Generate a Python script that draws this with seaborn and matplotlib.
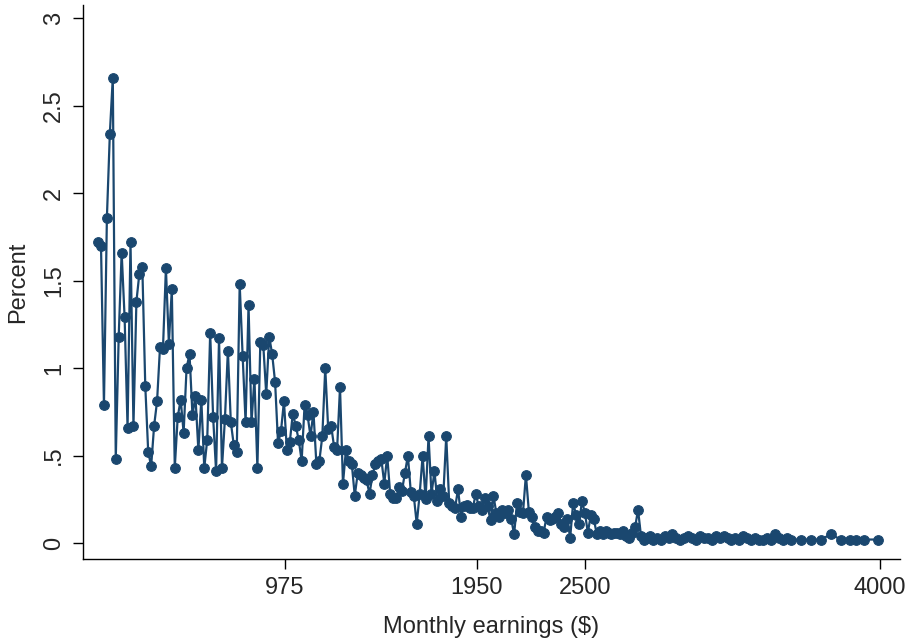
import matplotlib
matplotlib.use("Agg")
import matplotlib.pyplot as plt
import seaborn as sns
import pandas as pd

sns.set_style("white")
plt.rcParams["font.family"] = ["Liberation Sans", "DejaVu Sans"]

# monthly earnings bins ($)
earnings = [
    25, 40, 55, 70, 85, 100, 115, 130, 145, 160, 175, 190, 205, 220, 235, 250, 265, 280, 295, 310,
    325, 340, 355, 370, 385, 400, 415, 430, 445, 460, 475, 490, 505, 520, 535, 550, 565, 580, 595, 610,
    625, 640, 655, 670, 685, 700, 715, 730, 745, 760, 775, 790, 805, 820, 835, 850, 865, 880, 895, 910,
    925, 940, 955, 970, 985, 1000, 1015, 1030, 1045, 1060, 1075, 1090, 1105, 1120, 1135, 1150, 1165, 1180, 1195, 1210,
    1225, 1240, 1255, 1270, 1285, 1300, 1315, 1330, 1345, 1360, 1375, 1390, 1405, 1420, 1435, 1450, 1465, 1480, 1495, 1510,
    1525, 1540, 1555, 1570, 1585, 1600, 1615, 1630, 1645, 1660, 1675, 1690, 1705, 1720, 1735, 1750, 1765, 1780, 1795, 1810,
    1825, 1840, 1855, 1870, 1885, 1900, 1915, 1930, 1945, 1960, 1975, 1990, 2005, 2020, 2035, 2050, 2065, 2080, 2095, 2110,
    2125, 2140, 2155, 2170, 2185, 2200, 2215, 2230, 2245, 2260, 2275, 2290, 2305, 2320, 2335, 2350, 2365, 2380, 2395, 2410,
    2425, 2440, 2455, 2470, 2485, 2500, 2515, 2530, 2545, 2560, 2575, 2590, 2605, 2620, 2635, 2650, 2665, 2680, 2695, 2710,
    2725, 2740, 2755, 2770, 2785, 2800, 2815, 2830, 2845,
    2865, 2885, 2905, 2925, 2945, 2965, 2985, 3005, 3025, 3045, 3065, 3085, 3105, 3125, 3145, 3165, 3185, 3205, 3225, 3245,
    3265, 3285, 3305, 3325, 3345, 3365, 3385, 3405, 3425, 3445, 3465, 3485, 3505, 3525, 3550,
    3600, 3650, 3700, 3750, 3800, 3850, 3880, 3920, 3990,
]

percent = [
    1.72, 1.70, 0.79, 1.86, 2.34, 2.66, 0.48, 1.18, 1.66, 1.29, 0.66, 1.72, 0.67, 1.38, 1.54, 1.58, 0.90, 0.52, 0.44, 0.67,
    0.81, 1.12, 1.11, 1.57, 1.14, 1.45, 0.43, 0.72, 0.82, 0.63, 1.00, 1.08, 0.73, 0.84, 0.53, 0.82, 0.43, 0.59, 1.20, 0.72,
    0.41, 1.17, 0.43, 0.71, 1.10, 0.69, 0.56, 0.52, 1.48, 1.07, 0.69, 1.36, 0.69, 0.94, 0.43, 1.15, 1.13, 0.85, 1.18, 1.08,
    0.92, 0.57, 0.64, 0.81, 0.53, 0.58, 0.74, 0.67, 0.59, 0.47, 0.79, 0.73, 0.61, 0.75, 0.45, 0.47, 0.61, 1.00, 0.65, 0.67,
    0.55, 0.53, 0.89, 0.34, 0.53, 0.47, 0.45, 0.27, 0.40, 0.39, 0.37, 0.36, 0.28, 0.39, 0.45, 0.47, 0.48, 0.34, 0.50, 0.28,
    0.26, 0.26, 0.32, 0.30, 0.40, 0.50, 0.29, 0.27, 0.11, 0.28, 0.50, 0.25, 0.61, 0.28, 0.41, 0.24, 0.31, 0.27, 0.61, 0.23,
    0.21, 0.20, 0.31, 0.15, 0.21, 0.22, 0.20, 0.20, 0.28, 0.21, 0.19, 0.26, 0.21, 0.13, 0.27, 0.17, 0.15, 0.19, 0.17, 0.19,
    0.14, 0.05, 0.23, 0.18, 0.17, 0.39, 0.18, 0.15, 0.09, 0.07, 0.07, 0.06, 0.15, 0.13, 0.14, 0.15, 0.17, 0.11, 0.09, 0.14,
    0.03, 0.23, 0.16, 0.11, 0.24, 0.17, 0.06, 0.16, 0.14, 0.05, 0.07, 0.05, 0.07, 0.06, 0.05, 0.06, 0.06, 0.05, 0.07, 0.04,
    0.03, 0.06, 0.09, 0.19, 0.04, 0.02, 0.03, 0.04, 0.02,
    0.03, 0.02, 0.04, 0.03, 0.05, 0.03, 0.02, 0.03, 0.04, 0.03, 0.02, 0.04, 0.03, 0.03, 0.02, 0.04, 0.03, 0.04, 0.03, 0.02,
    0.03, 0.02, 0.04, 0.03, 0.02, 0.03, 0.02, 0.02, 0.03, 0.02, 0.05, 0.03, 0.02, 0.03, 0.02,
    0.02, 0.02, 0.02, 0.05, 0.02, 0.02, 0.02, 0.02, 0.02,
]

x_ticks = [975, 1950, 2500, 4000]
y_ticks = [0, 0.5, 1, 1.5, 2, 2.5, 3]
y_labels = ["0", ".5", "1", "1.5", "2", "2.5", "3"]

df = pd.DataFrame({"earnings": earnings, "percent": percent})
color = "#1a476f"

fig = plt.figure(figsize=(9.11, 6.41), dpi=100)
ax = fig.add_axes([0.091, 0.128, 0.897, 0.864])
sns.lineplot(data=df, x="earnings", y="percent", ax=ax, color=color, linewidth=1.6,
             marker="o", markersize=7, markeredgecolor=color)

ax.set_xlim(-52, 4102)
ax.set_ylim(-0.091, 3.074)
ax.set_xticks(x_ticks)
ax.set_yticks(y_ticks)
ax.set_yticklabels(y_labels, rotation=90, va="center")
ax.tick_params(axis="both", labelsize=17, length=7, width=1, direction="out", color="black",
               left=True, bottom=True, pad=6)
ax.set_xlabel("Monthly earnings ($)", fontsize=17, labelpad=12)
ax.set_ylabel("Percent", fontsize=17, labelpad=10)
for s in ["top", "right"]:
    ax.spines[s].set_visible(False)
for s in ["left", "bottom"]:
    ax.spines[s].set_color("black")
    ax.spines[s].set_linewidth(1)

fig.savefig("out.png", dpi=100)
